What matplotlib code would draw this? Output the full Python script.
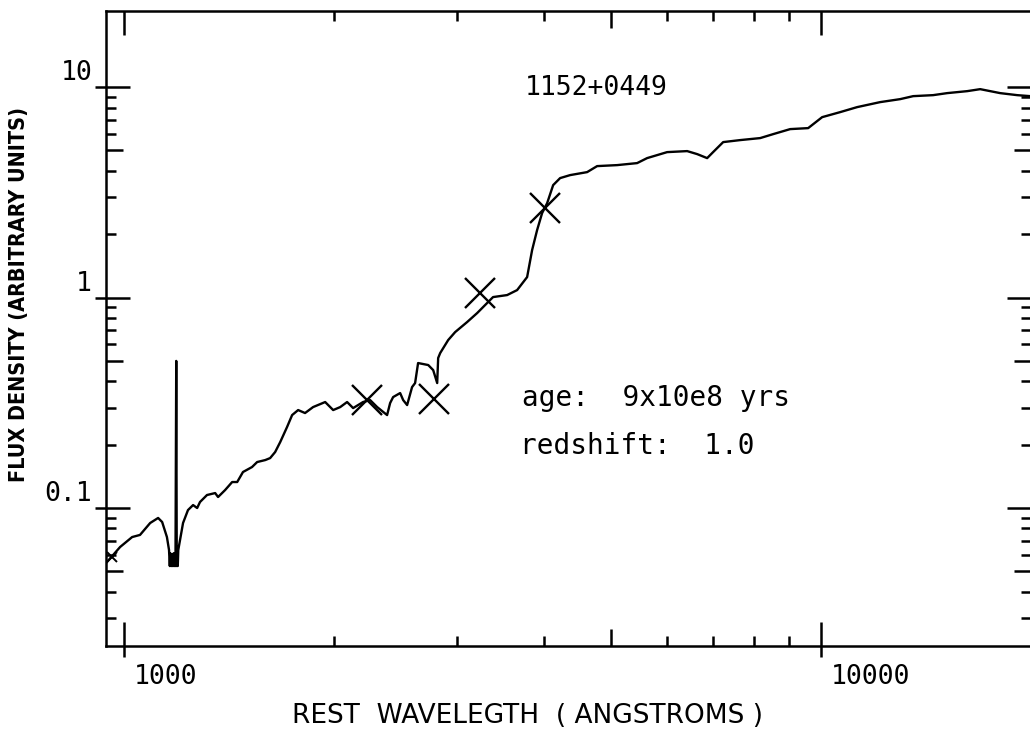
import matplotlib.pyplot as plt
from matplotlib.ticker import NullFormatter, FixedFormatter
from matplotlib.transforms import ScaledTranslation

# model spectrum, 1152+0449
wavelength = [945, 987, 1027, 1054, 1090, 1119, 1134, 1152, 1160,
              1163, 1165, 1168, 1170, 1172, 1174, 1176, 1178, 1181, 1183, 1185,
              1188, 1190, 1192, 1194, 1196,
              1203, 1215, 1235, 1256, 1273, 1285, 1315, 1351, 1364, 1396,
              1429, 1453, 1481, 1526, 1552, 1594, 1620, 1647, 1675, 1713,
              1742, 1777, 1818, 1867, 1943, 1995, 2042, 2089, 2131, 2202,
              2254, 2307, 2384, 2408, 2432, 2489, 2514, 2547, 2589, 2615,
              2641, 2731, 2776, 2813, 2822, 2841, 2917, 2985, 3105, 3210,
              3317, 3383, 3544, 3663, 3786, 3849, 3913, 3978, 4045, 4126,
              4222, 4364, 4616, 4771, 5097, 5445, 5627, 6012, 6424, 6640,
              6862, 6998, 7235, 7654, 8176, 8535, 9027, 9580, 10033, 10648,
              11262, 12148, 12985, 13552, 14475, 15164, 16200, 16910, 18065,
              19106, 19950]
flux = [0.0554, 0.0653, 0.0728, 0.0745, 0.0849, 0.0897, 0.0858, 0.0728, 0.0632,
        0.053, 0.061, 0.053, 0.060, 0.053, 0.060, 0.053, 0.061, 0.053, 0.060, 0.053,
        0.50, 0.053, 0.061, 0.053, 0.0632,
        0.0705, 0.0849, 0.0978, 0.1033, 0.100, 0.1068, 0.1153, 0.1178, 0.1128, 0.1217,
        0.1329, 0.1329, 0.1483, 0.1566, 0.1654, 0.169, 0.1727, 0.1845, 0.2059, 0.2425,
        0.2765, 0.2921, 0.2827, 0.3018, 0.3189, 0.2921, 0.3018, 0.3189, 0.2985, 0.3189,
        0.3258, 0.3018, 0.2765, 0.3154, 0.3367, 0.3518, 0.3258, 0.3085, 0.3756, 0.3925,
        0.4886, 0.4780, 0.4523, 0.3925, 0.5161, 0.5450, 0.6283, 0.6856, 0.7648, 0.8441,
        0.9417, 1.0055, 1.0278, 1.0854, 1.2515, 1.682, 2.093, 2.520, 2.811, 3.423,
        3.696, 3.819, 3.946, 4.214, 4.260, 4.355, 4.599, 4.911, 4.966, 4.805,
        4.599, 4.911, 5.480, 5.602, 5.726, 5.980, 6.317, 6.386, 7.2, 7.607,
        8.035, 8.486, 8.77, 9.06, 9.16, 9.365, 9.57, 9.78, 9.365,
        9.16, 9.06]

# photometric points (crosses)
phot_wave = [2232, 2785, 3243, 4018]
phot_flux = [0.326, 0.330, 1.05, 2.66]
extra_wave = [961]
extra_flux = [0.0585]

x_major = [1000, 10000]
x_mid = [5000]
x_minor = [2000, 3000, 4000, 6000, 7000, 8000, 9000]
y_major = [0.1, 1, 10]
y_mid = [0.05, 0.5, 5]
y_minor = [0.03, 0.04, 0.06, 0.07, 0.08, 0.09, 0.2, 0.3, 0.4, 0.6, 0.7, 0.8, 0.9,
           2, 3, 4, 6, 7, 8, 9]
x_labels = ['1000', '10000']
y_labels = ['0.1', '1', '10']

mono = 'DejaVu Sans Mono'
xlim = (942, 20000)
ylim = (0.0221, 23.0)

fig = plt.figure(figsize=(10.3, 7.41), dpi=100)
pos = [106 / 1030, 95 / 741, 925 / 1030, 635 / 741]
ax = fig.add_axes(pos)

ax.plot(wavelength, flux, color='black', lw=1.7)
ax.plot(phot_wave, phot_flux, 'x', color='black', ms=21, mew=1.7)
ax.plot(extra_wave, extra_flux, 'x', color='black', ms=7, mew=1.4)

ax.set_xscale('log')
ax.set_yscale('log')
ax.set_xlim(*xlim)
ax.set_ylim(*ylim)

ax.set_xticks(x_major)
ax.set_xticks(x_minor, minor=True)
ax.set_yticks(y_major)
ax.set_yticks(y_minor, minor=True)
ax.xaxis.set_major_formatter(FixedFormatter(x_labels))
ax.yaxis.set_major_formatter(FixedFormatter(y_labels))
ax.xaxis.set_minor_formatter(NullFormatter())
ax.yaxis.set_minor_formatter(NullFormatter())
ax.tick_params(which='major', direction='in', length=17, width=1.8,
               top=True, right=True)
ax.tick_params(which='minor', direction='in', length=7.5, width=1.8,
               top=True, right=True)
ax.tick_params(axis='x', which='major', pad=13, labelsize=19)
ax.tick_params(axis='y', which='major', pad=10, labelsize=19)
for sp in ax.spines.values():
    sp.set_linewidth(1.8)

for lab in ax.get_xticklabels():
    lab.set_family(mono)
    lab.set_horizontalalignment('left')
    lab.set_transform(lab.get_transform() + ScaledTranslation(0.10, 0, fig.dpi_scale_trans))
for lab in ax.get_yticklabels():
    lab.set_family(mono)
    lab.set_transform(lab.get_transform() + ScaledTranslation(0, 0.17, fig.dpi_scale_trans))

# second set of ticks: the 5s (in) and decades poking outside
ax2 = fig.add_axes(pos)
ax2.set_xscale('log')
ax2.set_yscale('log')
ax2.set_xlim(*xlim)
ax2.set_ylim(*ylim)
ax2.patch.set_visible(False)
for sp in ax2.spines.values():
    sp.set_visible(False)
ax2.set_xticks(x_mid)
ax2.set_xticks(x_major, minor=True)
ax2.set_yticks(y_mid)
ax2.set_yticks(y_major, minor=True)
ax2.tick_params(which='major', direction='in', length=12, width=1.8,
                top=True, right=True)
ax2.tick_params(which='minor', direction='out', length=8, width=1.8,
                bottom=True, left=True, top=False, right=False)
ax2.tick_params(which='both', labelbottom=False, labelleft=False)

# annotations
ax.text(0.453, 0.879, '1152+0449', transform=ax.transAxes, family=mono,
        fontsize=19, va='center', ha='left')
ax.text(0.450, 0.391, 'age:  9x10e8 yrs', transform=ax.transAxes, family=mono,
        fontsize=20, va='center', ha='left')
ax.text(0.448, 0.315, 'redshift:  1.0', transform=ax.transAxes, family=mono,
        fontsize=20, va='center', ha='left')

fig.text(0.512, 0.034, 'REST  WAVELEGTH  ( ANGSTROMS )', ha='center', va='center',
         fontsize=19, family='DejaVu Sans')
fig.text(0.018, 0.603, 'FLUX DENSITY (ARBITRARY UNITS)', rotation=90,
         ha='center', va='center', fontsize=15.5, weight='bold',
         fontstretch='condensed',
         family=['Liberation Sans Narrow', 'DejaVu Sans'])

fig.savefig('out.png', dpi=100)
